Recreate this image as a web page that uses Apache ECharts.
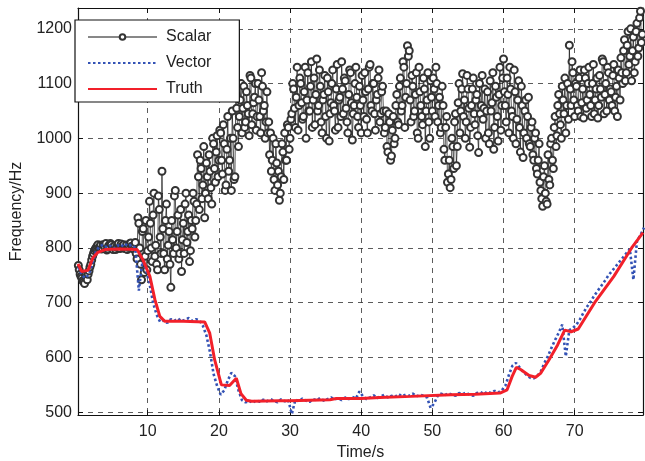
<!DOCTYPE html>
<html>
<head>
<meta charset="utf-8">
<script src="https://cdn.jsdelivr.net/npm/echarts@6/dist/echarts.min.js"></script>
<style>
	html, body { margin: 0; padding: 0; background: #fff; }
	#chart { width: 645px; height: 461px; }
</style>
</head>
<body>
<div id="chart"></div>
<script>
// tick labels
var xTicks = [10, 20, 30, 40, 50, 60, 70];
var yTicks = [500, 600, 700, 800, 900, 1000, 1100, 1200];

// Truth: piecewise path
var truthTime = [0.2, 0.7, 1.6, 2.3, 3.0, 4.0, 6.0, 8.5, 9.3, 10.3, 11.0, 11.7, 12.4, 15.0, 18.0, 18.7, 19.4, 20.35, 21.5, 22.45, 23.1, 23.85, 24.6, 28.5, 30.0, 35.6, 36.5, 40.0, 42.6, 47.0, 52.6, 56.0, 59.5, 60.5, 61.2, 61.8, 62.4, 63.6, 64.5, 65.2, 66.4, 67.6, 68.6, 69.5, 70.5, 72.8, 75.5, 78.0, 79.6];
var truthFreq = [771, 757, 759, 782, 792, 797, 798, 797, 779, 748, 706, 675, 666, 666, 665, 645, 596, 550, 549, 562, 534, 522, 520, 521, 521, 523, 525, 525, 527, 529, 532, 533, 535, 541, 565, 582, 578, 567, 564, 571, 596, 623, 650, 647, 652, 700, 748, 800, 828];

// Vector estimate, one value every 0.5 s from 0.25 s
var vectorStart = 0.25, vectorStep = 0.5;
var vector0 = [765, 750, 745, 752, 772, 795, 803, 806, 801, 804, 799, 805, 802, 808, 803, 806, 800, 722, 775, 760];
var vector1 = [735, 700, 678, 665, 668, 663, 670, 667, 671, 666, 669, 672, 667, 670, 668, 658, 640, 610, 570, 548];
var vector2 = [532, 540, 558, 572, 566, 540, 522, 518, 521, 517, 522, 519, 523, 520, 524, 521, 518, 524, 520, 522];
var vector3 = [497, 523, 520, 525, 521, 519, 524, 522, 526, 521, 524, 527, 523, 526, 522, 527, 524, 528, 525, 538];
var vector4 = [529, 524, 527, 531, 526, 529, 532, 527, 530, 528, 533, 529, 532, 530, 534, 529, 532, 530, 527, 508];
var vector5 = [516, 530, 534, 531, 535, 532, 530, 535, 533, 536, 532, 530, 535, 537, 533, 538, 535, 539, 536, 540];
var vector6 = [548, 568, 585, 590, 582, 574, 568, 563, 562, 566, 575, 590, 603, 618, 632, 645, 660, 602, 650, 654];
var vector7 = [660, 670, 682, 693, 702, 713, 722, 731, 740, 750, 758, 766, 774, 782, 790, 798, 742, 812, 824, 837];

// Scalar estimate, samples at 0.25 s from 0.25 s ...
var scalarStart = 0.25, scalarStep = 0.25;
var scalar0 = [768, 752, 745, 738, 750, 742, 758, 770, 785, 795, 800, 806,
	802, 798, 806, 801, 796, 804, 808, 800, 803, 797, 805, 800, 807, 802, 799, 805, 801, 808, 803, 798,
	810, 780, 845, 770, 830, 755, 850, 795];
var scalar1 = [885, 800, 860, 785, 770, 895, 820, 940, 790, 850, 780, 830, 728, 815, 895, 800, 860, 790, 757, 845,
	880, 810, 860, 795, 835, 885, 850, 970, 870, 945, 915, 855, 955, 890, 940, 880, 990, 920, 1005, 960];
var scalar2 = [1010, 935, 990, 915, 1040, 960, 905, 1000, 930, 1055, 985, 1070, 1010, 1095, 1030, 1060, 1005, 1110, 1045, 1075,
	1015, 1100, 1040, 1120, 1050, 1000, 1085, 1030, 1010, 960, 925, 990, 915, 887, 930, 975, 1010, 960, 1020, 1000];
var scalar3 = [1045, 1090, 1020, 1130, 1060, 1100, 1035, 1085, 1000, 1120, 1050, 1140, 1070, 1025, 1145, 1060, 1095, 1010, 1080, 1040,
	1110, 995, 1065, 1125, 1050, 1090, 1020, 1075, 1140, 1045, 1105, 1030, 1080, 1120, 997, 1060, 1130, 1040, 1095, 1010];
var scalar4 = [1070, 1120, 1035, 1090, 1135, 1050, 1100, 1015, 1080, 1125, 1045, 1095, 1010, 1050, 975, 1030, 968, 1040, 1000, 1080,
	1025, 1110, 1060, 1130, 1075, 1169, 1160, 1030, 1095, 1050, 1120, 1000, 1085, 1040, 1110, 985, 1070, 1030, 1105, 1050];
var scalar5 = [1090, 1130, 1030, 1075, 1020, 1060, 960, 1040, 935, 910, 1000, 945, 1045, 985, 1100, 1050, 1118, 1070, 1030, 1090,
	984, 1060, 1110, 1025, 1080, 974, 1045, 1115, 1055, 1000, 1085, 990, 1050, 1120, 1020, 1075, 995, 1130, 1060, 1145];
var scalar6 = [1060, 1110, 1010, 1090, 1040, 1125, 990, 1070, 1020, 1095, 965, 1050, 1000, 1075, 985, 1030, 960, 1010, 935, 990,
	905, 876, 950, 885, 970, 915, 1000, 945, 1040, 1005, 1080, 1025, 1095, 1045, 1010, 1100, 1170, 1060, 1120, 1040];
var scalar7 = [1095, 1050, 1125, 1065, 1037, 1110, 1070, 1130, 1060, 1100, 1045, 1090, 1037, 1115, 1075, 1140, 1080, 1050, 1120, 1090,
	1060, 1135, 1075, 1040, 1110, 1147, 1100, 1180, 1120, 1195, 1150, 1105, 1185, 1140, 1210, 1165, 1232, 1190];

// ... and the samples in between, at 0.25 s from 0.375 s
var midStart = 0.375, midStep = 0.25;
var mid0 = [760, 748, 740, 735, 746, 752, 765, 778, 790, 798, 803, 800,
	805, 799, 803, 808, 798, 802, 806, 797, 804, 801, 808, 799, 803, 806, 800, 797, 804, 809, 800, 806,
	790, 855, 800, 742, 835, 785, 760, 820];
var mid1 = [845, 775, 900, 805, 760, 870, 790, 835, 760, 880, 805, 770, 850, 790, 905, 830, 780, 870, 815, 790,
	900, 830, 775, 850, 900, 820, 880, 930, 960, 890, 985, 900, 930, 970, 910, 1000, 945, 975, 930, 1015];
var mid2 = [960, 1025, 905, 980, 940, 1000, 1050, 925, 1080, 1020, 1040, 1100, 1055, 1020, 1085, 1045, 1115, 1025, 1065, 1100,
	1040, 1070, 1010, 1095, 1060, 1030, 1010, 970, 940, 1000, 905, 955, 940, 900, 990, 925, 960, 1025, 980, 1035];
var mid3 = [1100, 1055, 1075, 1015, 1110, 1065, 1040, 1130, 1070, 1050, 1095, 1020, 1110, 1080, 1050, 1125, 1030, 1070, 1115, 1000,
	1085, 1045, 1100, 1060, 1015, 1135, 1070, 1040, 1090, 1110, 1055, 1010, 1125, 1065, 1045, 1100, 1075, 1020, 1060, 1115];
var mid4 = [1040, 1085, 1010, 1130, 1060, 1100, 1045, 1070, 1110, 1030, 1085, 1050, 1020, 985, 1045, 960, 1015, 990, 1060, 1030,
	1095, 1050, 1140, 1020, 1100, 1150, 1070, 1115, 1040, 1080, 1010, 1130, 1060, 1025, 1090, 1050, 1120, 1000, 1075, 1110];
var mid5 = [1040, 1100, 1060, 1010, 1095, 980, 1020, 920, 960, 925, 985, 1030, 950, 1065, 1010, 1090, 1040, 1000, 1115, 1055,
	1020, 1090, 1045, 1070, 1005, 1100, 1060, 1035, 1090, 1050, 1010, 1105, 1065, 980, 1095, 1040, 1080, 1015, 1110, 1085];
var mid6 = [1030, 1080, 1130, 1050, 1000, 1085, 1035, 1105, 975, 1060, 1010, 1070, 1040, 990, 1020, 970, 1000, 945, 960, 920,
	890, 930, 900, 880, 925, 990, 960, 1020, 985, 1060, 1045, 1000, 1070, 1110, 1060, 1035, 1090, 1140, 1070, 1100];
var mid7 = [1060, 1110, 1040, 1090, 1125, 1055, 1100, 1080, 1040, 1135, 1070, 1110, 1060, 1090, 1145, 1045, 1100, 1130, 1070, 1085,
	1115, 1050, 1095, 1125, 1070, 1120, 1160, 1105, 1170, 1135, 1200, 1160, 1120, 1195, 1150, 1220, 1175];

function pairs(times, values) {
	var out = [];
	for (var i = 0; i < values.length; i ++) {
		out.push([times[i], values[i]]);
	}
	return out;
}

function sampled(start, step, values) {
	var out = [];
	for (var i = 0; i < values.length; i ++) {
		out.push([start + i * step, values[i]]);
	}
	return out;
}

var scalarFreq = [].concat(scalar0, scalar1, scalar2, scalar3, scalar4, scalar5, scalar6, scalar7);
var midFreq = [].concat(mid0, mid1, mid2, mid3, mid4, mid5, mid6, mid7);
var vectorFreq = [].concat(vector0, vector1, vector2, vector3, vector4, vector5, vector6, vector7);

// merge both scalar sample sets into one time-ordered line
var scalarData = sampled(scalarStart, scalarStep, scalarFreq).concat(sampled(midStart, midStep, midFreq));
scalarData.sort(function (a, b) { return a[0] - b[0]; });

var fontName = "'Liberation Sans', Arial, Helvetica, sans-serif";
var gridDash = {
	show : true,
	lineStyle : { color : '#333', width : 0.8, type : [5, 5] }
};
var plainNumber = function (v) { return String(v); }; //no thousands separator

var myChart = echarts.init(document.getElementById('chart'));
var options = {
	animation : false,
	backgroundColor : '#fff',
	textStyle : { fontFamily : fontName },
	grid : {
		left : 78,
		right : 2,
		top : 8,
		bottom : 46,
		outerBoundsMode : 'none' //keep the plot box where it is
	},
	legend : {
		orient : 'vertical',
		left : 75,
		top : 20,
		data : [
			{ name : 'Scalar', lineStyle : { width : 1 } },
			{ name : 'Vector', itemStyle : { opacity : 0 } },
			{ name : 'Truth', itemStyle : { opacity : 0 } }
		],
		itemWidth : 69,
		itemHeight : 7,
		itemGap : 10,
		padding : [9, 28, 5, 12],
		backgroundColor : '#fff',
		borderColor : '#111',
		borderWidth : 1.2,
		borderRadius : 0,
		textStyle : { fontSize : 16, color : '#222', fontFamily : fontName, padding : [0, 0, 0, 4] }
	},
	xAxis : [{
		type : 'value',
		min : 0.2,
		max : 79.6,
		name : 'Time/s',
		nameLocation : 'middle',
		nameGap : 30,
		nameTextStyle : { fontSize : 16, color : '#222' },
		axisLine : { onZero : false, lineStyle : { color : '#111', width : 1.2 } },
		axisTick : { inside : true, length : 5, customValues : xTicks, lineStyle : { color : '#111' } },
		axisLabel : { customValues : xTicks, formatter : plainNumber, fontSize : 16, color : '#222', margin : 9 },
		splitLine : gridDash
	}, {
		type : 'value',
		position : 'top',
		min : 0.2,
		max : 79.6,
		axisLine : { onZero : false, lineStyle : { color : '#111', width : 1.2 } },
		axisTick : { inside : true, length : 5, customValues : xTicks, lineStyle : { color : '#111' } },
		axisLabel : { show : false },
		splitLine : { show : false }
	}],
	yAxis : [{
		type : 'value',
		min : 495,
		max : 1238,
		name : 'Frequency/Hz',
		nameLocation : 'middle',
		nameGap : 53,
		nameTextStyle : { fontSize : 16, color : '#222' },
		axisLine : { onZero : false, lineStyle : { color : '#111', width : 1.2 } },
		axisTick : { inside : true, length : 5, customValues : yTicks, lineStyle : { color : '#111' } },
		axisLabel : { customValues : yTicks, formatter : plainNumber, fontSize : 16, color : '#222', margin : 6 },
		splitLine : gridDash
	}, {
		type : 'value',
		position : 'right',
		min : 495,
		max : 1238,
		axisLine : { onZero : false, lineStyle : { color : '#111', width : 1.2 } },
		axisTick : { inside : true, length : 5, customValues : yTicks, lineStyle : { color : '#111' } },
		axisLabel : { show : false },
		splitLine : { show : false }
	}],
	series : [{
		name : 'Scalar',
		type : 'line',
		data : scalarData,
		symbol : 'emptyCircle',
		symbolSize : 7,
		showSymbol : true,
		showAllSymbol : true,
		lineStyle : { color : '#111', width : 0.7 },
		itemStyle : { color : '#333', borderWidth : 0.5 },
		z : 2
	}, {
		name : 'Vector',
		type : 'line',
		data : sampled(vectorStart, vectorStep, vectorFreq),
		showSymbol : false,
		lineStyle : { color : '#3352b5', width : 2.6, type : [2.5, 2.5] },
		itemStyle : { color : '#3352b5' },
		z : 3
	}, {
		name : 'Truth',
		type : 'line',
		data : pairs(truthTime, truthFreq),
		showSymbol : false,
		lineStyle : { color : '#f2202a', width : 3 },
		itemStyle : { color : '#f2202a' },
		z : 4
	}]
};
myChart.setOption(options);
</script>
</body>
</html>
